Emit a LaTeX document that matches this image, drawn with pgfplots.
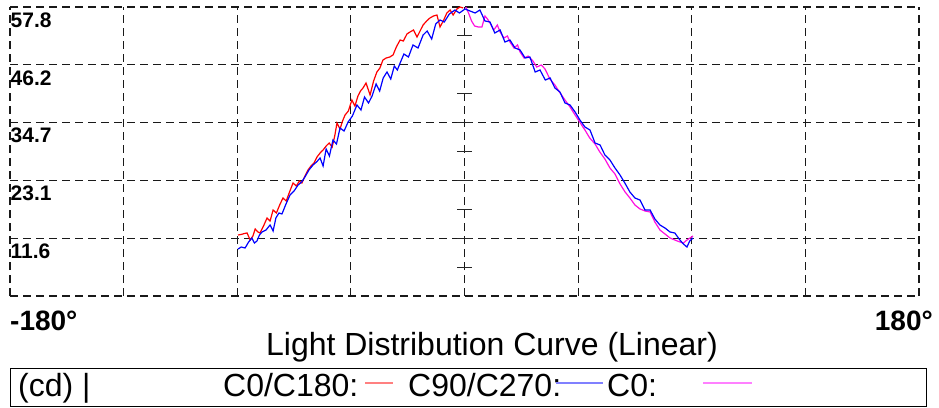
\documentclass[border=0pt]{standalone}
\usepackage{pgfplots}
\pgfplotsset{compat=1.18}
\usepackage{fontspec}
\setmainfont{Liberation Sans}
\definecolor{cred}{HTML}{FF0000}
\definecolor{cblue}{HTML}{0000FF}
\definecolor{cmag}{HTML}{FF10E0}
\definecolor{lred}{HTML}{FF8080}
\definecolor{lblue}{HTML}{8080FF}
\definecolor{lmag}{HTML}{FF80FF}
\begin{document}
\begin{tikzpicture}[x=1pt,y=1pt]
\useasboundingbox (-10,-111) rectangle (929,296);
\begin{axis}[at={(0,0)}, anchor=south west, width=909pt, height=289pt, scale only axis,
  xmin=-180, xmax=180, ymin=0, ymax=57.8,
  xtick={-180,-135,-90,-45,0,45,90,135,180},
  ytick={0,11.56,23.12,34.68,46.24,57.8},
  xticklabels={}, yticklabels={},
  grid=major,
  major grid style={black!90, line width=1.2pt, dash pattern=on 8pt off 5pt},
  axis line style={draw=none}, major tick length=0pt, clip=false]
% centre tick marks
\foreach \v in {5.78,11.56,17.34,23.12,28.9,34.68,40.46,46.24,52.02}{
  \edef\tmp{\noexpand\addplot[black!85, line width=1.1pt, forget plot] coordinates {(-2.8,\v) (2.8,\v)};}
  \tmp
}
% C0/C180
\addplot[cred, line width=1.2pt] coordinates {
(-89.7,12.2) (-88.5,12.3) (-87.2,12.5) (-86.1,12.6) (-84.9,11.2) (-83.8,12.0) (-82.9,13.4) (-81.8,12.8)
(-81.0,12.6) (-79.6,14.0) (-78.2,15.6) (-77.0,15.0) (-75.8,17.2) (-74.5,16.6) (-73.2,18.2) (-71.9,19.6)
(-70.6,19.0) (-69.3,20.8) (-67.9,22.6) (-66.6,22.0) (-65.4,23.0) (-64.4,22.6) (-63.2,24.0) (-62.0,25.2)
(-60.8,26.0) (-59.6,26.6) (-58.4,27.8) (-57.2,28.6) (-56.0,29.2) (-54.8,30.0) (-53.6,30.6) (-52.4,29.8)
(-51.4,32.0) (-50.5,34.6) (-49.3,33.4) (-48.3,35.0) (-47.3,36.2) (-46.0,37.0) (-44.6,39.2) (-43.4,38.0)
(-42.2,40.0) (-41.2,41.0) (-40.2,41.6) (-39.0,42.6) (-37.4,40.2) (-36.0,43.0) (-34.7,44.8) (-33.5,45.6)
(-32.3,47.2) (-31.0,47.6) (-29.6,47.8) (-28.3,48.2) (-27.0,49.8) (-25.5,51.2) (-24.2,51.0) (-22.8,52.4)
(-21.6,52.8) (-20.2,53.2) (-18.8,51.8) (-17.6,53.0) (-16.4,54.2) (-15.0,55.0) (-13.7,55.6) (-12.3,56.0)
(-10.9,56.2) (-9.7,53.8) (-8.4,55.0) (-7.0,56.6) (-5.7,57.2) (-4.5,56.2) (-3.0,57.4) (-1.8,57.8) (-0.5,57.6)
};
% C0
\addplot[cmag, line width=1.2pt] coordinates {
(0.5,57.8) (1.6,56.6) (2.8,55.0) (4.0,54.0) (5.5,53.8) (6.9,53.8) (8.1,56.0) (9.1,55.4) (10.1,54.6)
(11.6,53.2) (13.0,54.2) (14.1,52.8) (15.6,51.6) (17.0,52.0) (18.0,50.8) (19.6,49.6) (21.0,50.2)
(22.0,48.8) (23.6,47.6) (25.2,48.0) (27.1,47.0) (28.6,45.8) (30.4,46.2) (31.9,45.4) (33.8,43.4)
(35.8,42.2) (37.6,40.8) (39.8,39.2) (41.8,37.8) (43.8,36.2) (45.6,34.8) (47.7,33.2) (49.6,31.6)
(51.7,30.4) (53.6,28.8) (55.6,27.4) (57.6,25.6) (59.6,24.4) (61.6,22.4) (63.6,20.8) (65.5,19.6)
(67.5,18.2) (69.5,17.4) (71.5,17.0) (73.5,16.8) (75.4,14.8) (77.4,13.2) (79.4,12.4) (81.4,11.6)
(83.3,11.2) (85.3,10.8) (86.7,10.6) (88.1,11.2) (89.3,11.6) (90.5,12.0)
};
% C90/C270
\addplot[cblue, line width=1.2pt] coordinates {
(-89.7,9.4) (-88.4,9.8) (-86.9,9.6) (-85.5,10.8) (-84.2,11.6) (-83.2,10.6) (-82.2,11.0) (-81.2,12.2)
(-80.2,12.8) (-78.6,13.2) (-77.0,14.2) (-75.8,13.0) (-74.7,15.6) (-73.5,16.6) (-72.3,16.4) (-70.7,18.4)
(-69.1,20.2) (-67.5,21.0) (-65.9,22.2) (-64.5,22.8) (-63.2,23.8) (-61.6,25.2) (-60.0,26.2) (-58.6,26.8)
(-57.2,27.6) (-56.0,26.0) (-54.8,29.4) (-53.5,28.0) (-52.1,31.2) (-50.7,30.4) (-49.3,33.6) (-47.7,33.0)
(-46.1,34.8) (-44.4,36.0) (-42.6,38.2) (-41.0,37.2) (-39.6,39.8) (-38.0,38.6) (-36.6,40.0) (-35.0,42.4)
(-33.6,41.0) (-32.2,43.6) (-30.7,44.8) (-29.2,43.4) (-27.8,46.0) (-26.6,45.2) (-25.5,46.6) (-24.0,48.4)
(-22.2,47.8) (-20.4,50.2) (-18.4,49.6) (-16.4,52.2) (-14.8,53.0) (-13.0,51.4) (-11.4,54.4) (-9.7,55.2)
(-8.0,54.8) (-6.0,56.4) (-3.8,57.2) (-2.0,56.6) (0.2,57.4) (2.2,57.0) (4.2,56.6) (6.1,57.2) (8.1,55.0)
(10.1,54.8) (12.0,52.6) (14.1,53.2) (16.0,50.8) (18.0,51.2) (20.0,49.6) (22.0,49.2) (24.0,47.6)
(25.9,47.8) (28.0,44.8) (29.9,45.2) (32.0,43.2) (33.9,43.6) (35.8,41.6) (37.8,40.8) (39.8,38.6)
(41.8,38.2) (43.8,36.8) (45.7,35.2) (47.7,33.8) (49.7,33.2) (51.7,30.6) (53.7,30.2) (55.6,28.2)
(57.6,27.2) (59.6,25.6) (61.6,24.2) (63.5,22.6) (65.5,20.8) (67.5,19.6) (69.5,19.2) (71.5,17.2)
(73.5,17.2) (75.4,15.4) (77.4,14.2) (79.4,13.6) (81.4,12.8) (83.3,12.6) (85.3,11.2) (86.7,10.4)
(88.1,9.8) (89.2,11.0) (90.5,11.6)
};
% y labels
\foreach \v/\t in {57.8/57.8,46.24/46.2,34.68/34.7,23.12/23.1,11.56/11.6}{
  \edef\tmp{\noexpand\node[anchor=north west, inner xsep=0.5pt, inner ysep=0pt, yshift=-5.5pt,
     font=\noexpand\fontsize{21}{24}\noexpand\selectfont\noexpand\bfseries] at (axis cs:-180,\v) {\t};}
  \tmp
}
\end{axis}
% bottom labels
\node[anchor=base west, inner sep=0pt, font=\fontsize{28}{32}\selectfont\bfseries] at (0,-34) {-180°};
\node[anchor=base east, inner sep=0pt, font=\fontsize{28}{32}\selectfont\bfseries] at (923,-34) {180°};
\node[anchor=base, inner sep=0pt, font=\fontsize{32}{36}\selectfont] at (482,-59) {Light Distribution Curve (Linear)};
% legend box
\draw[black, line width=1pt] (0,-72) rectangle (916,-110);
\begin{scope}[every node/.style={anchor=base west, inner sep=0pt, font=\fontsize{32}{36}\selectfont}]
\node at (8,-100.5) {(cd) |};
\node at (213,-100.5) {C0/C180:};
\node at (398,-100.5) {C90/C270:};
\node at (597,-100.5) {C0:};
\end{scope}
\draw[lred, line width=1.5pt] (355,-87) -- (383,-87);
\draw[lblue, line width=1.5pt] (546,-87) -- (593,-87);
\draw[lmag, line width=1.5pt] (693,-87) -- (742,-87);
\end{tikzpicture}
\end{document}
